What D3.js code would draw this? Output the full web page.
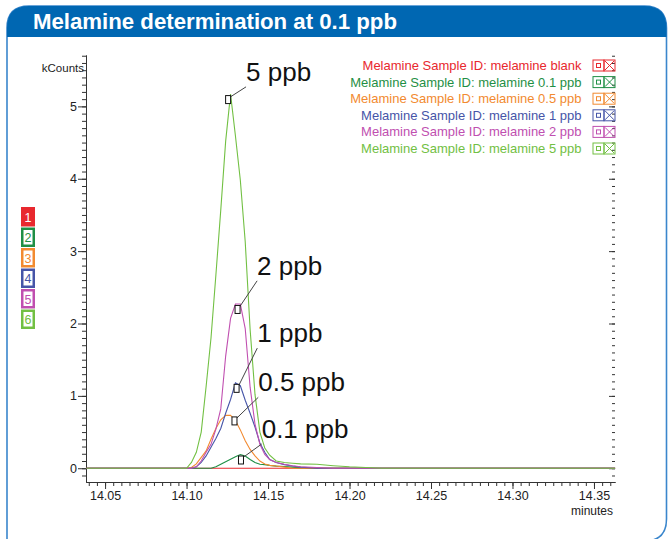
<!DOCTYPE html>
<html>
<head>
<meta charset="utf-8">
<script src="https://cdn.jsdelivr.net/npm/d3@7/dist/d3.min.js"></script>
<style>
    body { margin: 0; background: #fff; }
    svg { display: block; font-family: "Liberation Sans", Arial, sans-serif; }
</style>
</head>
<body>
<div id="chart"></div>
<script>
//
// Melamine chromatogram (kCounts vs minutes)
//

// retention time grid, minutes
var times = [14.038, 14.100, 14.103, 14.106, 14.109, 14.112, 14.115, 14.118, 14.121, 14.124,
    14.127, 14.130, 14.133, 14.136, 14.139, 14.142, 14.145, 14.148, 14.151, 14.155,
    14.160, 14.165, 14.170, 14.180, 14.190, 14.200, 14.220, 14.363];

// kCounts for each sample, same length as times
var blank = [0, 0, 0, 0, 0, 0, 0, 0, 0, 0, 0, 0, 0, 0, 0, 0, 0, 0, 0, 0, 0, 0, 0, 0, 0, 0, 0, 0];
var ppb01 = [0, 0, 0, 0, 0, 0, 0, 0.02, 0.055, 0.09, 0.125, 0.16, 0.19, 0.17, 0.12, 0.08, 0.055, 0.05, 0.04, 0.03,
    0.025, 0.015, 0.005, 0, 0, 0, 0, 0];
var ppb05 = [0, 0, 0.01, 0.06, 0.15, 0.24, 0.4, 0.55, 0.67, 0.73, 0.73, 0.66, 0.53, 0.38, 0.26, 0.17, 0.1, 0.06, 0.04, 0.03,
    0.015, 0, 0, 0, 0, 0, 0, 0];
var ppb1 = [0, 0, 0, 0.02, 0.08, 0.17, 0.29, 0.41, 0.55, 0.76, 0.95, 1.18, 1.14, 0.94, 0.76, 0.57, 0.35, 0.22, 0.12, 0.08,
    0.05, 0.03, 0.015, 0, 0, 0, 0, 0];
var ppb2 = [0, 0, 0, 0.02, 0.1, 0.22, 0.33, 0.54, 0.82, 1.55, 2.07, 2.27, 2.27, 1.93, 1.12, 0.61, 0.33, 0.19, 0.12, 0.08,
    0.055, 0.035, 0.02, 0.01, 0, 0, 0, 0];
var ppb5 = [0, 0, 0.08, 0.22, 0.5, 1.13, 1.8, 2.67, 3.57, 4.52, 5.17, 4.59, 3.98, 3.13, 1.92, 1.02, 0.5, 0.28, 0.18, 0.1,
    0.08, 0.07, 0.06, 0.055, 0.035, 0.02, 0, 0];

var seriesValues = [blank, ppb01, ppb05, ppb1, ppb2, ppb5];
var seriesNames = ['Melamine Sample ID: melamine blank', 'Melamine Sample ID: melamine 0.1 ppb',
    'Melamine Sample ID: melamine 0.5 ppb', 'Melamine Sample ID: melamine 1 ppb',
    'Melamine Sample ID: melamine 2 ppb', 'Melamine Sample ID: melamine 5 ppb'];
var seriesColors = ['#e8282e', '#1f8f45', '#f28a30', '#4655a8', '#c04fb0', '#72c043'];

// peak annotations
var peakLabels = ['5 ppb', '2 ppb', '1 ppb', '0.5 ppb', '0.1 ppb'];
var peakSeries = [5, 4, 3, 2, 1];
var markerTimes = [14.1255, 14.1313, 14.1307, 14.1294, 14.1334];
var labelTimes = [14.1365, 14.1433, 14.1434, 14.1440, 14.1461];
var labelValues = [5.27, 2.59, 1.66, 0.98, 0.335];

// axes
var xDomain = [14.0383, 14.3629];
var yDomain = [-0.19, 5.71];
var xMajorTicks = [14.05, 14.10, 14.15, 14.20, 14.25, 14.30, 14.35];
var yMajorTicks = [0, 1, 2, 3, 4, 5];

function drawChart(divName) {
    var width = 668;
    var height = 539;
    var plotLeft = 86, plotRight = 615, plotTop = 55, plotBottom = 482;

    var svg = d3.select("#" + divName)
        .append("svg")
        .attr("width", width)
        .attr("height", height);

    // card frame + header
    svg.append("path")
        .attr("d", "M7,560 L7,28 Q7,6 29,6 L644.5,6 Q666.5,6 666.5,28 L666.5,519 Q666.5,541 644.5,541 L7,541")
        .attr("fill", "#fff")
        .attr("stroke", "#3a86cc")
        .attr("stroke-width", 1.6);
    svg.append("path")
        .attr("d", "M7,37 L7,28 Q7,6 29,6 L644.5,6 Q666.5,6 666.5,28 L666.5,37 Z")
        .attr("fill", "#0067b2");
    svg.append("text")
        .attr("x", 33)
        .attr("y", 29)
        .attr("fill", "#fff")
        .attr("font-family", "'Liberation Sans Narrow', 'Liberation Sans', Arial, sans-serif")
        .attr("font-weight", "bold")
        .attr("font-size", "22px")
        .attr("textLength", 364)
        .attr("lengthAdjust", "spacingAndGlyphs")
        .text("Melamine determination at 0.1 ppb");

    var x = d3.scaleLinear().domain(xDomain).range([plotLeft, plotRight]);
    var y = d3.scaleLinear().domain(yDomain).range([plotBottom, plotTop]);

    var xMinor = d3.range(0, 65).map(function (i) { return +(14.04 + i * 0.005).toFixed(3); });
    var yMinor = d3.range(-1, 58).map(function (i) { return i / 10; });

    // bottom axis: minor then major
    svg.append("g")
        .attr("class", "x axis minor")
        .attr("transform", "translate(0," + plotBottom + ")")
        .call(d3.axisBottom(x).tickValues(xMinor).tickSize(4).tickSizeOuter(0).tickFormat(""));
    svg.append("g")
        .attr("class", "x axis")
        .attr("transform", "translate(0," + plotBottom + ")")
        .call(d3.axisBottom(x).tickValues(xMajorTicks).tickSize(7).tickSizeOuter(0).tickPadding(2)
            .tickFormat(d3.format(".2f")));

    // left axis
    svg.append("g")
        .attr("class", "y axis minor")
        .attr("transform", "translate(" + plotLeft + ",0)")
        .call(d3.axisLeft(y).tickValues(yMinor).tickSize(4).tickSizeOuter(0).tickFormat(""));
    svg.append("g")
        .attr("class", "y axis")
        .attr("transform", "translate(" + plotLeft + ",0)")
        .call(d3.axisLeft(y).tickValues(yMajorTicks).tickSize(8).tickSizeOuter(0).tickPadding(1)
            .tickFormat(d3.format("d")));

    // right side ticks only, pointing in
    svg.append("g")
        .attr("class", "y2 axis minor")
        .attr("transform", "translate(" + plotRight + ",0)")
        .call(d3.axisLeft(y).tickValues(yMinor).tickSize(3).tickFormat(""));
    svg.append("g")
        .attr("class", "y2 axis")
        .attr("transform", "translate(" + plotRight + ",0)")
        .call(d3.axisLeft(y).tickValues(yMajorTicks).tickSize(6).tickFormat(""));
    svg.selectAll(".y2 .domain").remove();

    svg.selectAll(".axis .domain, .axis line").attr("stroke", "#333");
    svg.selectAll(".axis text")
        .attr("font-family", "'Liberation Sans', Arial, sans-serif")
        .attr("font-size", "12.5px")
        .attr("fill", "#222");

    svg.append("text")
        .attr("x", 84)
        .attr("y", 72)
        .attr("text-anchor", "end")
        .attr("font-size", "11.5px")
        .attr("fill", "#222")
        .text("kCounts");
    svg.append("text")
        .attr("x", 613)
        .attr("y", 515)
        .attr("text-anchor", "end")
        .attr("font-size", "12px")
        .attr("fill", "#222")
        .text("minutes");

    // traces
    svg.append("clipPath").attr("id", "plotClip")
        .append("rect")
        .attr("x", plotLeft + 0.5).attr("y", plotTop)
        .attr("width", plotRight - plotLeft).attr("height", plotBottom - plotTop - 0.5);

    var line = d3.line()
        .x(function (d, i) { return x(times[i]); })
        .y(function (d) { return y(d); });

    svg.append("g")
        .attr("clip-path", "url(#plotClip)")
        .selectAll("path")
        .data(seriesValues)
        .enter()
        .append("path")
        .attr("d", function (d) { return line(d); })
        .attr("fill", "none")
        .attr("stroke", function (d, i) { return seriesColors[i]; })
        .attr("stroke-width", 1.1);

    // peak markers, leader lines, labels
    for (var k = 0; k < peakLabels.length; k++) {
        var peak = d3.max(seriesValues[peakSeries[k]]);
        var mx = x(markerTimes[k]);
        var my = y(peak) + 1.5;
        var lx = x(labelTimes[k]);
        var ly = y(labelValues[k]);

        svg.append("line")
            .attr("x1", lx).attr("y1", ly)
            .attr("x2", mx + 2).attr("y2", my + 1.5)
            .attr("stroke", "#444")
            .attr("stroke-width", 1);
        svg.append("rect")
            .attr("x", mx - 2.5).attr("y", my)
            .attr("width", 5).attr("height", 8)
            .attr("fill", "#fff")
            .attr("stroke", "#111")
            .attr("stroke-width", 1);
        svg.append("text")
            .attr("x", lx)
            .attr("y", ly - 6)
            .attr("font-size", "26px")
            .attr("fill", "#111")
            .text(peakLabels[k]);
    }

    // legend, top right
    var legend = svg.selectAll("legend")
        .data(seriesNames)
        .enter()
        .append("g")
        .attr("class", "chromLegend")
        .attr("transform", function (d, idx) { return "translate(0," + (65.5 + idx * 16.6) + ")"; });

    legend.append("text")
        .attr("x", 581.5)
        .attr("dy", ".35em")
        .attr("text-anchor", "end")
        .attr("font-size", "13px")
        .attr("fill", function (d, idx) { return seriesColors[idx]; })
        .text(function (d) { return d; });
    legend.append("rect")
        .attr("x", 593).attr("y", -5.5).attr("width", 11).attr("height", 11)
        .attr("fill", "none")
        .attr("stroke", function (d, idx) { return seriesColors[idx]; });
    legend.append("rect")
        .attr("x", 596.5).attr("y", -2).attr("width", 4).attr("height", 4)
        .attr("fill", "none")
        .attr("stroke", function (d, idx) { return seriesColors[idx]; });
    legend.append("rect")
        .attr("x", 604).attr("y", -5.5).attr("width", 11).attr("height", 11)
        .attr("fill", "none")
        .attr("stroke", function (d, idx) { return seriesColors[idx]; });
    legend.append("path")
        .attr("d", "M605,-4.5 L614,4.5 M614,-4.5 L605,4.5")
        .attr("fill", "none")
        .attr("stroke", function (d, idx) { return seriesColors[idx]; });

    // numbered trace boxes, left side
    var boxes = svg.selectAll("traceBox")
        .data(seriesNames)
        .enter()
        .append("g")
        .attr("transform", function (d, idx) { return "translate(21," + (207 + idx * 20.5) + ")"; });
    boxes.append("rect")
        .attr("width", 14).attr("height", 19.5)
        .attr("fill", function (d, idx) { return seriesColors[idx]; });
    boxes.filter(function (d, idx) { return idx > 0; })
        .append("rect")
        .attr("x", 2.5).attr("y", 2.5).attr("width", 9).attr("height", 14.5)
        .attr("fill", "#fff");
    boxes.append("text")
        .attr("x", 7).attr("y", 14.5)
        .attr("text-anchor", "middle")
        .attr("font-size", "12.5px")
        .attr("fill", function (d, idx) { return idx == 0 ? "#fff" : seriesColors[idx]; })
        .text(function (d, idx) { return idx + 1; });

    return svg;
}

drawChart("chart");
</script>
</body>
</html>
